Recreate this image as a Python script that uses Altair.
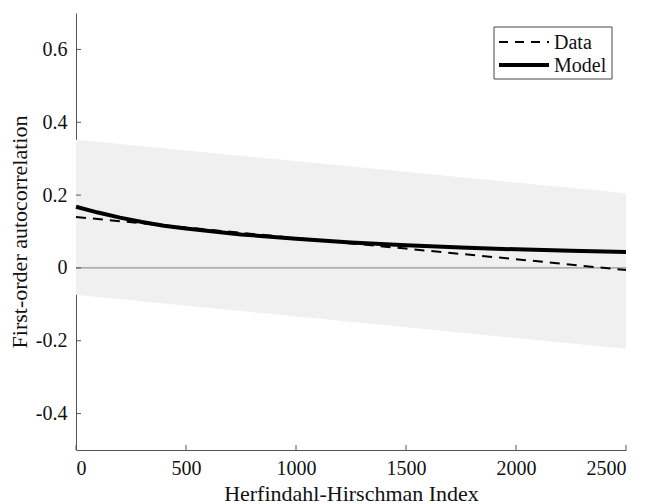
import altair as alt
import pandas as pd

# Model curve
hhi_model = [0, 100, 200, 300, 400, 500, 750, 1000, 1250, 1500, 1750, 2000, 2250, 2500]
model_vals = [0.168, 0.152, 0.138, 0.126, 0.116, 0.108, 0.092, 0.080, 0.070, 0.062, 0.056, 0.051, 0.047, 0.044]

# Data (dashed) line
hhi_data = [0, 500, 1000, 1500, 2000, 2500]
data_vals = [0.140, 0.111, 0.082, 0.053, 0.024, -0.006]

# Confidence band
hhi_band = [0, 2500]
band_low = [-0.074, -0.222]
band_high = [0.352, 0.205]

y_ticks = [-0.4, -0.2, 0, 0.2, 0.4, 0.6]
x_ticks = [0, 500, 1000, 1500, 2000, 2500]
legend_labels = ["Data", "Model"]

FONT = "Liberation Serif"
W, H = 550, 437

xscale = alt.Scale(domain=[0, 2500], nice=False, zero=False)
yscale = alt.Scale(domain=[-0.5, 0.7], nice=False, zero=False)

xaxis = alt.Axis(values=x_ticks, title="Herfindahl-Hirschman Index", tickSize=0,
                 labelPadding=8, titlePadding=5, grid=False, format="d",
                 labelFont=FONT, titleFont=FONT, labelFontSize=20, titleFontSize=22)
yaxis = alt.Axis(values=y_ticks, title="First-order autocorrelation", tickSize=0,
                 labelPadding=9, titlePadding=4, grid=False,
                 labelFont=FONT, titleFont=FONT, labelFontSize=20, titleFontSize=22,
                 labelExpr="datum.value == 0 ? '0' : replace(format(datum.value, '.1f'), '\u2212', '-')")

band_layer = alt.Chart(pd.DataFrame({"hhi": hhi_band, "lo": band_low, "hi": band_high})).mark_area(
    color="#f0f0f0", opacity=1).encode(
    x=alt.X("hhi:Q", scale=xscale, axis=xaxis),
    y=alt.Y("lo:Q", scale=yscale, axis=yaxis),
    y2="hi:Q",
)

zero_layer = alt.Chart(pd.DataFrame({"z": [0]})).mark_rule(color="#808080", strokeWidth=1).encode(
    y=alt.Y("z:Q", scale=yscale, axis=yaxis)
)

data_layer = alt.Chart(pd.DataFrame({"hhi": hhi_data, "val": data_vals})).mark_line(
    color="black", strokeWidth=2, strokeDash=[10, 7]).encode(
    x=alt.X("hhi:Q", scale=xscale, axis=xaxis),
    y=alt.Y("val:Q", scale=yscale, axis=yaxis),
)
model_layer = alt.Chart(pd.DataFrame({"hhi": hhi_model, "val": model_vals})).mark_line(
    color="black", strokeWidth=4).encode(
    x=alt.X("hhi:Q", scale=xscale, axis=xaxis),
    y=alt.Y("val:Q", scale=yscale, axis=yaxis),
)

ytick_layer = alt.Chart(pd.DataFrame({"t": y_ticks})).mark_rule(color="#555").encode(
    y=alt.Y("t:Q", scale=yscale, axis=yaxis), x=alt.value(0), x2=alt.value(5)
)
xtick_layer = alt.Chart(pd.DataFrame({"t": x_ticks})).mark_rule(color="#555").encode(
    x=alt.X("t:Q", scale=xscale, axis=xaxis), y=alt.value(H), y2=alt.value(H - 5)
)

# Legend (drawn as a box with line samples and labels)
leg_df = pd.DataFrame({"label": legend_labels})
leg_box = alt.Chart(pd.DataFrame({"a": [0]})).mark_rect(
    fill="white", stroke="#444", strokeWidth=1).encode(
    x=alt.value(418), x2=alt.value(536), y=alt.value(14), y2=alt.value(66))
leg_data_line = alt.Chart(leg_df).transform_filter("datum.label == 'Data'").mark_rule(
    color="black", strokeWidth=2, strokeDash=[9, 7]).encode(
    x=alt.value(423), x2=alt.value(473), y=alt.value(29))
leg_model_line = alt.Chart(leg_df).transform_filter("datum.label == 'Model'").mark_rule(
    color="black", strokeWidth=4).encode(
    x=alt.value(423), x2=alt.value(473), y=alt.value(52))
leg_data_text = alt.Chart(leg_df).transform_filter("datum.label == 'Data'").mark_text(
    font=FONT, fontSize=20, align="left", baseline="middle", color="#111").encode(
    x=alt.value(478), y=alt.value(30), text="label:N")
leg_model_text = alt.Chart(leg_df).transform_filter("datum.label == 'Model'").mark_text(
    font=FONT, fontSize=20, align="left", baseline="middle", color="#111").encode(
    x=alt.value(478), y=alt.value(53), text="label:N")

chart = alt.layer(
    band_layer, zero_layer, data_layer, model_layer, ytick_layer, xtick_layer,
    leg_box, leg_data_line, leg_model_line, leg_data_text, leg_model_text,
).properties(
    width=W, height=H,
    autosize=alt.AutoSizeParams(type="none"),
    padding={"left": 68, "top": 5, "right": 11, "bottom": 55},
).configure(
    font=FONT,
    style={"guide-label": {"font": FONT, "fontSize": 20, "fill": "#111"},
           "guide-title": {"font": FONT, "fontSize": 22, "fill": "#111"}},
).configure_view(stroke=None).configure_axis(
    labelFont=FONT, titleFont=FONT,
    labelColor="#111", titleColor="#111", titleFontWeight="normal",
    domainColor="#555", domainWidth=1,
)

chart.save("out.html", embed_options={"renderer": "svg", "actions": False})
